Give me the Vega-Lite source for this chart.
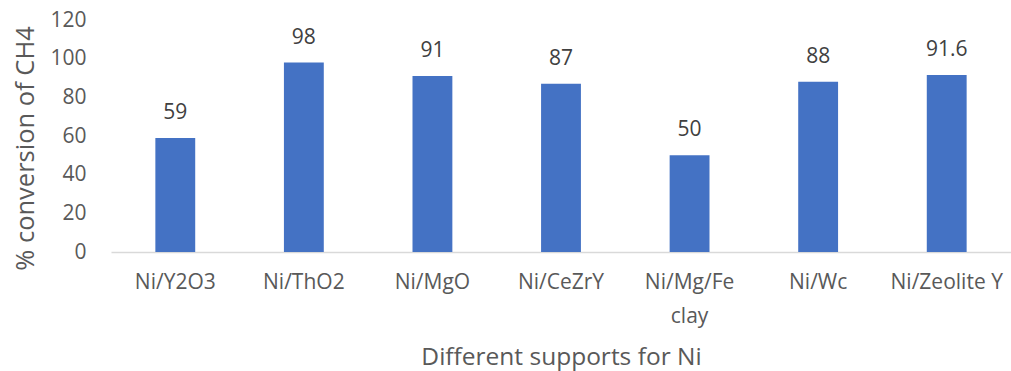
{
  "$schema": "https://vega.github.io/schema/vega-lite/v6.json",
  "width": 900,
  "height": 232,
  "autosize": {"type": "none"},
  "padding": {"left": 111, "top": 20, "right": 0, "bottom": 119},
  "background": "white",
  "config": {
    "view": {"stroke": null},
    "font": "Open Sans"
  },
  "data": {
    "values": [
      {"support": "Ni/Y2O3", "value": 59, "label": "59"},
      {"support": "Ni/ThO2", "value": 98, "label": "98"},
      {"support": "Ni/MgO", "value": 91, "label": "91"},
      {"support": "Ni/CeZrY", "value": 87, "label": "87"},
      {"support": "Ni/Mg/Fe clay", "value": 50, "label": "50"},
      {"support": "Ni/Wc", "value": 88, "label": "88"},
      {"support": "Ni/Zeolite Y", "value": 91.6, "label": "91.6"}
    ]
  },
  "encoding": {
    "x": {
      "field": "support",
      "type": "nominal",
      "sort": null,
      "scale": {"paddingInner": 0.69, "paddingOuter": 0.345},
      "axis": {
        "title": "Different supports for Ni",
        "titleFontSize": 24.5,
        "titleFontWeight": "normal",
        "titleColor": "#595959",
        "titlePadding": 19,
        "labelAngle": 0,
        "labelFontSize": 21,
        "labelColor": "#595959",
        "labelPadding": 19,
        "labelExpr": "datum.label == 'Ni/Mg/Fe clay' ? ['Ni/Mg/Fe', 'clay'] : datum.label",
        "labelLineHeight": 34,
        "ticks": false,
        "domainColor": "#d9d9d9",
        "domainWidth": 1.5
      }
    },
    "y": {
      "field": "value",
      "type": "quantitative",
      "scale": {"domain": [0, 120]},
      "axis": {
        "title": "% conversion of CH4",
        "titleFontSize": 25.5,
        "titleFontWeight": "normal",
        "titleColor": "#595959",
        "titlePadding": 11,
        "titleY": 128,
        "values": [0, 20, 40, 60, 80, 100, 120],
        "labelFontSize": 21,
        "labelColor": "#595959",
        "labelPadding": 25,
        "ticks": false,
        "domain": false,
        "grid": false
      }
    }
  },
  "layer": [
    {"mark": {"type": "bar", "color": "#4472C4"}},
    {
      "mark": {"type": "text", "baseline": "alphabetic", "dy": -19, "fontSize": 21, "color": "#404040"},
      "encoding": {"text": {"field": "label"}}
    }
  ]
}
